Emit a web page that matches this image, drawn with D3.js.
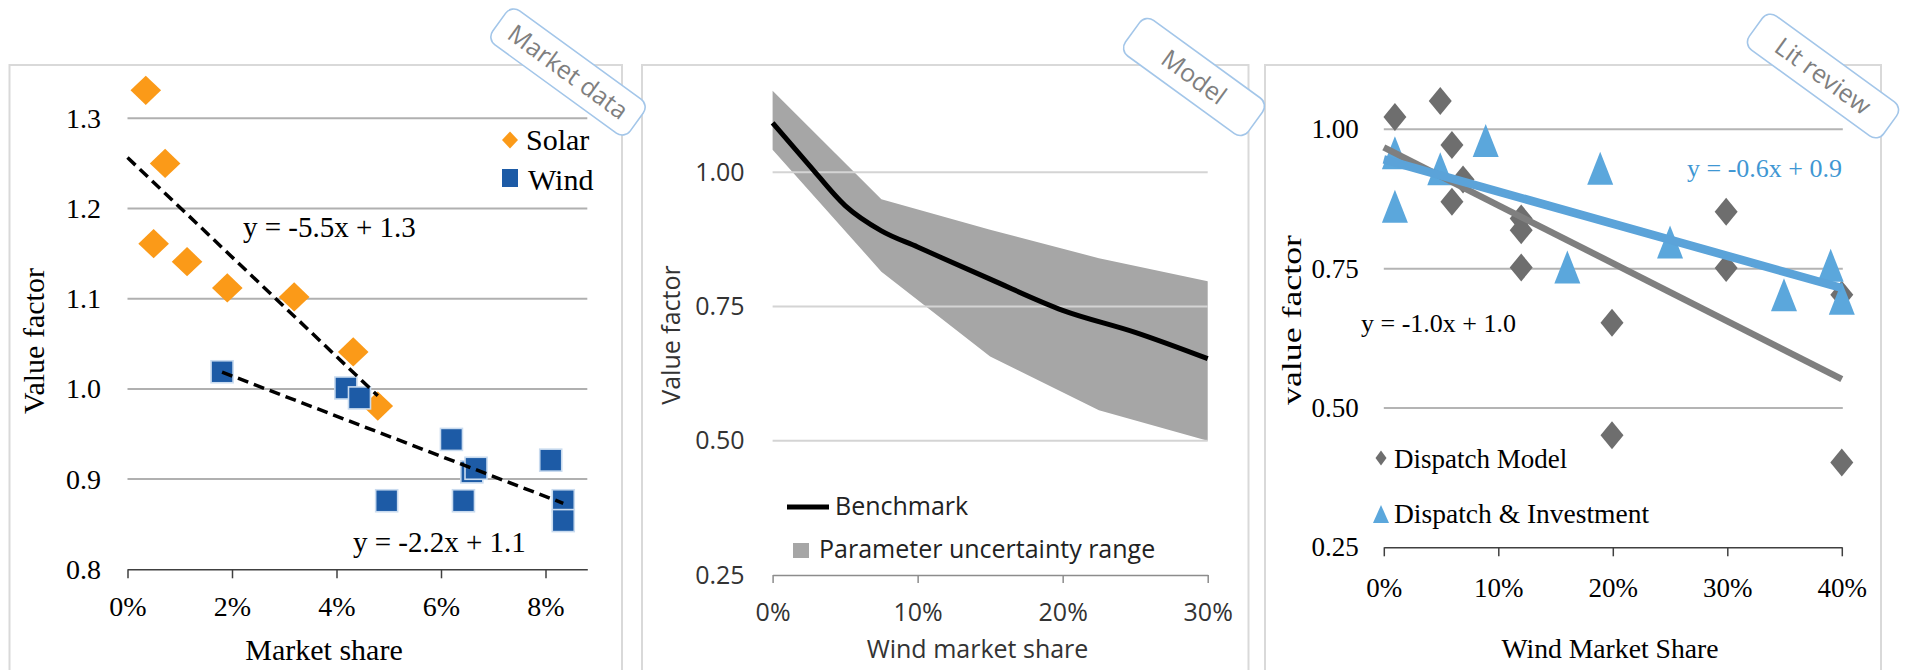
<!DOCTYPE html>
<html>
<head>
<meta charset="utf-8">
<script src="https://cdn.jsdelivr.net/npm/d3@7"></script>
<style>
  body { margin: 0; background: #fff; }
  svg { display: block; }
</style>
</head>
<body>
<svg id="chart" width="1907" height="670"></svg>
<script>
// ---------- Market data panel ----------
const solarShare = [0.0035, 0.0072, 0.0050, 0.0114, 0.0191, 0.0319, 0.0432, 0.0479];
const solarValue = [1.331, 1.250, 1.161, 1.141, 1.112, 1.102, 1.041, 0.981];
const windShare  = [0.0181, 0.0418, 0.0444, 0.0620, 0.0659, 0.0667, 0.0810, 0.0496, 0.0643, 0.0834, 0.0834];
const windValue  = [1.019, 1.001, 0.990, 0.944, 0.908, 0.912, 0.921, 0.876, 0.876, 0.876, 0.854];
const marketTicksX = [0, 0.02, 0.04, 0.06, 0.08];
const marketTicksY = [0.8, 0.9, 1.0, 1.1, 1.2, 1.3];

// ---------- Model panel ----------
const benchShare = [0, 0.025, 0.05, 0.075, 0.10, 0.15, 0.20, 0.25, 0.30];
const benchValue = [1.092, 1.014, 0.938, 0.891, 0.861, 0.801, 0.743, 0.702, 0.653];
const rangeShare = [0, 0.075, 0.15, 0.225, 0.30];
const rangeHigh  = [1.152, 0.950, 0.893, 0.840, 0.797];
const rangeLow   = [1.042, 0.815, 0.657, 0.557, 0.500];
const modelTicksX = [0, 0.10, 0.20, 0.30];
const modelTicksY = [0.25, 0.50, 0.75, 1.00];

// ---------- Literature review panel ----------
const dispatchShare = [0.0097, 0.0493, 0.0595, 0.0692, 0.0595, 0.120, 0.120, 0.120, 0.1993, 0.1993, 0.299, 0.299, 0.400, 0.400];
const dispatchValue = [1.022, 1.051, 0.972, 0.910, 0.870, 0.840, 0.819, 0.752, 0.653, 0.451, 0.852, 0.751, 0.703, 0.402];
const investShare = [0.0097, 0.0097, 0.0493, 0.089, 0.189, 0.1603, 0.250, 0.3495, 0.3903, 0.400];
const investValue = [0.958, 0.862, 0.929, 0.980, 0.930, 0.753, 0.798, 0.703, 0.756, 0.697];
const litTicksX = [0, 0.10, 0.20, 0.30, 0.40];
const litTicksY = [0.25, 0.50, 0.75, 1.00];

// ---------- helpers ----------
const SERIF = "'Liberation Serif', 'Times New Roman', serif";
const SANS = "'Open Sans', 'Noto Sans', sans-serif";
const svg = d3.select("#chart");
const H = 670;

// ordinary least-squares line through paired arrays
function linearFit(xs, ys) {
  const mx = d3.mean(xs), my = d3.mean(ys);
  let sxy = 0, sxx = 0;
  xs.forEach((x, i) => { sxy += (x - mx) * (ys[i] - my); sxx += (x - mx) * (x - mx); });
  const m = sxy / sxx;
  return { m, b: my - m * mx };
}
const eqText = f => `y = ${f.m.toFixed(1)}x + ${f.b.toFixed(1)}`;

const diamond = (a, b) => `M0,${-b}L${a},0L0,${b}L${-a},0Z`;
const triangle = (w, h) => `M0,${-h / 2}L${w / 2},${h / 2}L${-w / 2},${h / 2}Z`;

function styleAxis(g, font, size, color, lineColor) {
  g.selectAll("text").attr("font-family", font).attr("font-size", size).attr("fill", color);
  g.selectAll("path, line").attr("stroke", lineColor).attr("stroke-width", 1.5);
}

// panel frames
[[9.5, 622], [642, 1248.5], [1265, 1881]].forEach(([x0, x1]) => {
  svg.append("rect").attr("x", x0).attr("y", 65).attr("width", x1 - x0).attr("height", H)
    .attr("fill", "none").attr("stroke", "#d9d9d9").attr("stroke-width", 2);
});

// ================= Panel 1: market data =================
{
  const x = d3.scaleLinear().domain([0, 0.088]).range([127.5, 587.3]);
  const y = d3.scaleLinear().domain([0.8, 1.3]).range([569.3, 118.3]);
  const g = svg.append("g");

  g.selectAll(".grid").data(marketTicksY.slice(1)).join("line")
    .attr("x1", x.range()[0]).attr("x2", x.range()[1])
    .attr("y1", d => y(d)).attr("y2", d => y(d))
    .attr("stroke", "#b0b0b0").attr("stroke-width", 2);

  const ax = g.append("g").attr("transform", `translate(0,${y(0.8)})`)
    .call(d3.axisBottom(x).tickValues(marketTicksX).tickFormat(d3.format(".0%"))
      .tickSize(9).tickSizeOuter(0).tickPadding(18));
  styleAxis(ax, SERIF, 28, "#000", "#404040");

  const ay = g.append("g").attr("transform", `translate(${x.range()[0]},0)`)
    .call(d3.axisLeft(y).tickValues(marketTicksY).tickFormat(d3.format(".1f"))
      .tickSize(0).tickPadding(26.5));
  ay.select(".domain").remove();
  styleAxis(ay, SERIF, 28, "#000", "none");

  // markers
  g.selectAll(".solar").data(solarShare).join("path")
    .attr("transform", (d, i) => `translate(${x(d)},${y(solarValue[i])})`)
    .attr("d", diamond(15.3, 14.6)).attr("fill", "#fb9a18");
  g.selectAll(".wind").data(windShare).join("rect")
    .attr("x", d => x(d) - 11).attr("y", (d, i) => y(windValue[i]) - 11)
    .attr("width", 22).attr("height", 22)
    .attr("fill", "#1d5ba6").attr("stroke", "#c9dbef").attr("stroke-width", 1.6);

  // trendlines
  const solarFit = linearFit(solarShare, solarValue);
  const windFit = linearFit(windShare, windValue);
  const trend = (f, x0, x1) => g.append("line")
    .attr("x1", x(x0)).attr("y1", y(f.m * x0 + f.b))
    .attr("x2", x(x1)).attr("y2", y(f.m * x1 + f.b))
    .attr("stroke", "#000").attr("stroke-width", 3.5).attr("stroke-dasharray", "11,6");
  trend(solarFit, 0, d3.max(solarShare));
  trend(windFit, d3.min(windShare), d3.max(windShare));

  g.append("text").attr("x", 243).attr("y", 237).text(eqText(solarFit))
    .attr("font-family", SERIF).attr("font-size", 29);
  g.append("text").attr("x", 353).attr("y", 552).text(eqText(windFit))
    .attr("font-family", SERIF).attr("font-size", 29);

  // legend
  g.append("path").attr("transform", "translate(510,140)").attr("d", diamond(8, 8.5)).attr("fill", "#fb9a18");
  g.append("text").attr("x", 526).attr("y", 150).text("Solar").attr("font-family", SERIF).attr("font-size", 30);
  g.append("rect").attr("x", 502).attr("y", 169).attr("width", 16).attr("height", 18).attr("fill", "#1d5ba6");
  g.append("text").attr("x", 528).attr("y", 190).text("Wind").attr("font-family", SERIF).attr("font-size", 30);

  // axis titles
  g.append("text").attr("x", 324).attr("y", 660).attr("text-anchor", "middle")
    .text("Market share").attr("font-family", SERIF).attr("font-size", 30);
  g.append("text").attr("transform", "translate(44,341) rotate(-90)").attr("text-anchor", "middle")
    .text("Value factor").attr("font-family", SERIF).attr("font-size", 30);
}

// ================= Panel 2: model =================
{
  const x = d3.scaleLinear().domain([0, 0.30]).range([772.6, 1207.7]);
  const y = d3.scaleLinear().domain([0.25, 1.00]).range([575, 172.3]);
  const g = svg.append("g");

  g.append("path")
    .datum(rangeShare)
    .attr("d", d3.area().x(d => x(d)).y0((d, i) => y(rangeLow[i])).y1((d, i) => y(rangeHigh[i])))
    .attr("fill", "#a6a6a6");

  g.selectAll(".grid").data(modelTicksY.slice(1)).join("line")
    .attr("x1", x.range()[0]).attr("x2", x.range()[1])
    .attr("y1", d => y(d)).attr("y2", d => y(d))
    .attr("stroke", "#d4d4d4").attr("stroke-width", 2);

  const ax = g.append("g").attr("transform", `translate(0,${y(0.25)})`)
    .call(d3.axisBottom(x).tickValues(modelTicksX).tickFormat(d3.format(".0%"))
      .tickSize(8).tickSizeOuter(0).tickPadding(20));
  styleAxis(ax, SANS, 25, "#333", "#8c8c8c");

  const ay = g.append("g").attr("transform", `translate(${x.range()[0]},0)`)
    .call(d3.axisLeft(y).tickValues(modelTicksY).tickFormat(d3.format(".2f"))
      .tickSize(0).tickPadding(28));
  ay.select(".domain").remove();
  styleAxis(ay, SANS, 25, "#333", "none");

  g.append("path")
    .datum(benchShare)
    .attr("d", d3.line().x(d => x(d)).y((d, i) => y(benchValue[i])).curve(d3.curveMonotoneX))
    .attr("fill", "none").attr("stroke", "#000").attr("stroke-width", 5);

  // legend
  g.append("line").attr("x1", 787).attr("x2", 829).attr("y1", 507).attr("y2", 507)
    .attr("stroke", "#000").attr("stroke-width", 5);
  g.append("text").attr("x", 835).attr("y", 515).text("Benchmark")
    .attr("font-family", SANS).attr("font-size", 25).attr("fill", "#222");
  g.append("rect").attr("x", 793).attr("y", 543).attr("width", 16).attr("height", 15).attr("fill", "#a6a6a6");
  g.append("text").attr("x", 819).attr("y", 558).text("Parameter uncertainty range")
    .attr("font-family", SANS).attr("font-size", 25).attr("fill", "#222");

  g.append("text").attr("x", 977.5).attr("y", 658).attr("text-anchor", "middle")
    .text("Wind market share").attr("font-family", SANS).attr("font-size", 25).attr("fill", "#333");
  g.append("text").attr("transform", "translate(680,335) rotate(-90)").attr("text-anchor", "middle")
    .text("Value factor").attr("font-family", SANS).attr("font-size", 25).attr("fill", "#333");
}

// ================= Panel 3: literature review =================
{
  const x = d3.scaleLinear().domain([0, 0.40]).range([1383.8, 1841.8]);
  const y = d3.scaleLinear().domain([0.25, 1.00]).range([547.3, 129.3]);
  const g = svg.append("g");

  g.selectAll(".grid").data(litTicksY.slice(1)).join("line")
    .attr("x1", x.range()[0]).attr("x2", x.range()[1] + 1)
    .attr("y1", d => y(d)).attr("y2", d => y(d))
    .attr("stroke", "#b4b4b4").attr("stroke-width", 2);

  const ax = g.append("g").attr("transform", `translate(0,${y(0.25)})`)
    .call(d3.axisBottom(x).tickValues(litTicksX).tickFormat(d3.format(".0%"))
      .tickSize(9).tickSizeOuter(0).tickPadding(22));
  styleAxis(ax, SERIF, 27, "#000", "#404040");

  const ay = g.append("g").attr("transform", `translate(${x.range()[0]},0)`)
    .call(d3.axisLeft(y).tickValues(litTicksY).tickFormat(d3.format(".2f"))
      .tickSize(0).tickPadding(25));
  ay.select(".domain").remove();
  styleAxis(ay, SERIF, 27, "#000", "none");

  g.selectAll(".dispatch").data(dispatchShare).join("path")
    .attr("transform", (d, i) => `translate(${x(d)},${y(dispatchValue[i])})`)
    .attr("d", diamond(11.5, 14)).attr("fill", "#6e6e6e");
  g.selectAll(".invest").data(investShare).join("path")
    .attr("transform", (d, i) => `translate(${x(d)},${y(investValue[i])})`)
    .attr("d", triangle(26, 33)).attr("fill", "#5ba7dc");

  const dispatchFit = linearFit(dispatchShare, dispatchValue);
  const investFit = linearFit(investShare, investValue);
  const [d0, d1] = x.domain();
  g.append("line")
    .attr("x1", x(d0)).attr("y1", y(dispatchFit.m * d0 + dispatchFit.b))
    .attr("x2", x(d1)).attr("y2", y(dispatchFit.m * d1 + dispatchFit.b))
    .attr("stroke", "#7f7f7f").attr("stroke-width", 6.5);
  g.append("line")
    .attr("x1", x(d0)).attr("y1", y(investFit.m * d0 + investFit.b))
    .attr("x2", x(d1)).attr("y2", y(investFit.m * d1 + investFit.b))
    .attr("stroke", "#5ba3d9").attr("stroke-width", 8.5);

  g.append("text").attr("x", 1687).attr("y", 177).text(eqText(investFit))
    .attr("font-family", SERIF).attr("font-size", 26).attr("fill", "#3f97d3");
  g.append("text").attr("x", 1361).attr("y", 332).text(eqText(dispatchFit))
    .attr("font-family", SERIF).attr("font-size", 26).attr("fill", "#000");

  // legend
  g.append("path").attr("transform", "translate(1381,458)").attr("d", diamond(5.5, 7.5)).attr("fill", "#6e6e6e");
  g.append("text").attr("x", 1394).attr("y", 468).text("Dispatch Model")
    .attr("font-family", SERIF).attr("font-size", 27);
  g.append("path").attr("transform", "translate(1381,514)").attr("d", triangle(16, 18)).attr("fill", "#5ba7dc");
  g.append("text").attr("x", 1394).attr("y", 523).text("Dispatch & Investment")
    .attr("font-family", SERIF).attr("font-size", 27.5);

  g.append("text").attr("x", 1610).attr("y", 658).attr("text-anchor", "middle")
    .text("Wind Market Share").attr("font-family", SERIF).attr("font-size", 28)
    .attr("textLength", 217).attr("lengthAdjust", "spacingAndGlyphs");
  g.append("text").attr("transform", "translate(1301,320) rotate(-90)").attr("text-anchor", "middle")
    .text("value factor").attr("font-family", SERIF).attr("font-size", 28)
    .attr("textLength", 170).attr("lengthAdjust", "spacingAndGlyphs");
}

// ---------- tilted source badges ----------
function badge(cx, cy, w, h, label) {
  const b = svg.append("g").attr("transform", `translate(${cx},${cy}) rotate(36)`);
  b.append("rect").attr("x", -w / 2).attr("y", -h / 2).attr("width", w).attr("height", h)
    .attr("rx", 10).attr("fill", "#fff").attr("stroke", "#a3c6e9").attr("stroke-width", 1.6);
  b.append("text").attr("text-anchor", "middle").attr("dy", "0.35em").text(label)
    .attr("font-family", SANS).attr("font-size", 25).attr("fill", "#7f7f7f");
}
badge(568, 72, 170, 42, "Market data");
badge(1194, 77, 152, 44, "Model");
badge(1823, 76, 166, 42, "Lit review");
</script>
</body>
</html>
